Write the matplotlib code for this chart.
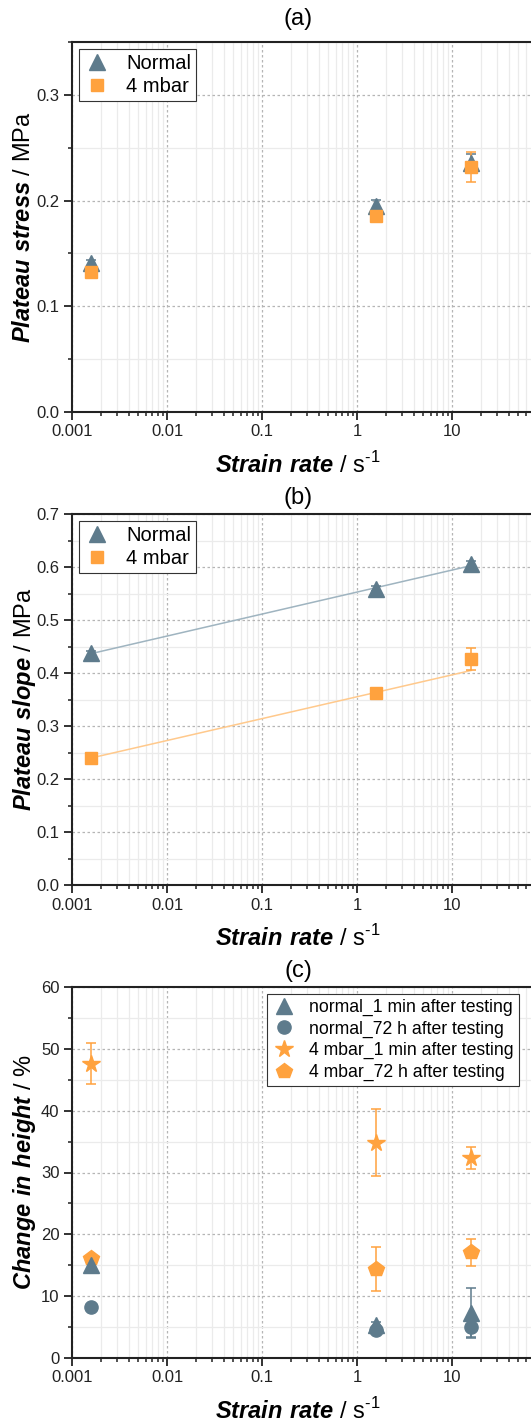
import numpy as np
import matplotlib
matplotlib.use('Agg')
import matplotlib.pyplot as plt
from matplotlib.ticker import MultipleLocator, LogLocator, NullFormatter, FixedFormatter, FixedLocator

plt.rcParams['font.family'] = ['Liberation Sans', 'DejaVu Sans']
plt.rcParams['mathtext.fontset'] = 'custom'
plt.rcParams['mathtext.rm'] = 'Liberation Sans'
plt.rcParams['mathtext.bf'] = 'Liberation Sans:italic:bold'

GREY = '#5e7b8c'
ORANGE = '#ffa23e'
GREY_LINE = '#9fb4c0'
ORANGE_LINE = '#ffc98c'

# strain rates (1/s)
rate = [0.0016, 1.6, 16]

# (a) plateau stress / MPa
stress_normal = [0.141, 0.195, 0.236]
stress_normal_err = [0.003, 0.006, 0.008]
stress_4mbar = [0.132, 0.185, 0.232]
stress_4mbar_err = [0.003, 0.004, 0.014]

# (b) plateau slope / MPa
slope_normal = [0.437, 0.559, 0.605]
slope_normal_err = [0.004, 0.005, 0.006]
slope_4mbar = [0.240, 0.362, 0.426]
slope_4mbar_err = [0.004, 0.005, 0.021]

# (c) change in height / %
h_normal_1min = [15.0, 5.3, 7.3]
h_normal_1min_err = [0.5, 0.5, 4.1]
h_normal_72h = [8.2, 4.6, 5.0]
h_normal_72h_err = [0.3, 0.4, 1.6]
h_4mbar_1min = [47.6, 34.8, 32.3]
h_4mbar_1min_err = [3.3, 5.4, 1.8]
h_4mbar_72h = [16.2, 14.4, 17.1]
h_4mbar_72h_err = [0.5, 3.5, 2.2]

xticks = [0.001, 0.01, 0.1, 1, 10]
xticklabels = ['0.001', '0.01', '0.1', '1', '10']

W, H = 531, 1423
fig = plt.figure(figsize=(W / 100, H / 100), dpi=100)

XLABEL = r'$\mathbf{Strain\ rate}$ / s$^{\text{-}1}$'


def make_axes(top_px, bottom_px):
    left, right = 72, 547
    ax = fig.add_axes([left / W, 1 - bottom_px / H, (right - left) / W, (bottom_px - top_px) / H])
    ax.set_xscale('log')
    ax.set_xlim(0.001, 100)
    ax.xaxis.set_major_locator(FixedLocator(xticks))
    ax.xaxis.set_major_formatter(FixedFormatter(xticklabels))
    ax.xaxis.set_minor_locator(LogLocator(base=10, subs=np.arange(2, 10)))
    ax.xaxis.set_minor_formatter(NullFormatter())
    for s in ['left', 'bottom', 'top']:
        ax.spines[s].set_linewidth(1.5)
        ax.spines[s].set_color('#222222')
    ax.spines['right'].set_visible(False)
    ax.tick_params(which='major', direction='out', length=6, width=1.3, labelsize=12, pad=3,
                   colors='#222222')
    ax.tick_params(which='minor', direction='out', length=3, width=1.1, colors='#222222')
    ax.grid(which='major', linestyle=(0, (2, 2)), color='#b5b5b5', linewidth=0.9)
    ax.grid(which='minor', linestyle='-', color='#ebebeb', linewidth=0.9)
    ax.set_axisbelow(True)
    ax.set_xlabel(XLABEL, fontsize=17)
    ax.xaxis.set_label_coords(0.476, -0.143)
    ax.xaxis.label.set_va('center')
    return ax


def set_ylabel(ax, txt):
    ax.set_ylabel(txt, fontsize=17)
    ax.yaxis.set_label_coords(-0.1, 0.5)
    ax.yaxis.label.set_va('center')


def add_legend(ax, order=None, **kw):
    h, l = ax.get_legend_handles_labels()
    h = [hh[0] for hh in h]
    if order is not None:
        h = [h[i] for i in order]
        l = [l[i] for i in order]
    leg = ax.legend(h, l, frameon=True, fancybox=False, edgecolor='#333333', framealpha=1,
                    handlelength=1.3, **kw)
    leg.get_frame().set_linewidth(0.8)
    return leg


eb = dict(capsize=3.5, elinewidth=1.1, capthick=1.1, linestyle='none')

# ---- (a)
ax1 = make_axes(42, 412)
ax1.set_ylim(0, 0.35)
ax1.yaxis.set_major_locator(MultipleLocator(0.1))
ax1.yaxis.set_minor_locator(MultipleLocator(0.05))
ax1.yaxis.set_major_formatter(matplotlib.ticker.FormatStrFormatter('%.1f'))
ax1.errorbar(rate, stress_normal, yerr=stress_normal_err, marker='^', ms=11.5, color=GREY,
             ecolor=GREY, label='Normal', **eb)
ax1.errorbar(rate, stress_4mbar, yerr=stress_4mbar_err, marker='s', ms=8.5, color=ORANGE,
             ecolor=ORANGE, label='4 mbar', **eb)
set_ylabel(ax1, r'$\mathbf{Plateau\ stress}$ / MPa')
ax1.set_title('(a)', fontsize=17, x=0.476, pad=12)
add_legend(ax1, loc='upper left', fontsize=14.5, borderaxespad=0.35, handletextpad=0.8,
           borderpad=0.25, labelspacing=0.2)

# ---- (b)
ax2 = make_axes(514, 885)
ax2.set_ylim(0, 0.7)
ax2.yaxis.set_major_locator(MultipleLocator(0.1))
ax2.yaxis.set_minor_locator(MultipleLocator(0.05))
ax2.yaxis.set_major_formatter(matplotlib.ticker.FormatStrFormatter('%.1f'))
lx = np.log10(rate)
for ys, es, lc in [(slope_normal, slope_normal_err, GREY_LINE), (slope_4mbar, slope_4mbar_err, ORANGE_LINE)]:
    p = np.polyfit(lx, ys, 1, w=1 / np.array(es))
    xf = np.array([rate[0], rate[-1]])
    ax2.plot(xf, np.polyval(p, np.log10(xf)), color=lc, lw=1.1, zorder=2)
ax2.errorbar(rate, slope_normal, yerr=slope_normal_err, marker='^', ms=11.5, color=GREY,
             ecolor=GREY, label='Normal', zorder=3, **eb)
ax2.errorbar(rate, slope_4mbar, yerr=slope_4mbar_err, marker='s', ms=8.5, color=ORANGE,
             ecolor=ORANGE, label='4 mbar', zorder=3, **eb)
set_ylabel(ax2, r'$\mathbf{Plateau\ slope}$ / MPa')
ax2.set_title('(b)', fontsize=17, x=0.476, pad=7)
add_legend(ax2, loc='upper left', fontsize=14.5, borderaxespad=0.35, handletextpad=0.8,
           borderpad=0.25, labelspacing=0.2)

# ---- (c)
ax3 = make_axes(987, 1358)
ax3.set_ylim(0, 60)
ax3.yaxis.set_major_locator(MultipleLocator(10))
ax3.yaxis.set_minor_locator(MultipleLocator(5))
ax3.errorbar(rate, h_4mbar_1min, yerr=h_4mbar_1min_err, marker='*', ms=13, color=ORANGE,
             ecolor=ORANGE, label='4 mbar_1 min after testing', **eb)
ax3.errorbar(rate, h_4mbar_72h, yerr=h_4mbar_72h_err, marker='p', ms=11.5, color=ORANGE,
             ecolor=ORANGE, label='4 mbar_72 h after testing', **eb)
ax3.errorbar(rate, h_normal_1min, yerr=h_normal_1min_err, marker='^', ms=11, color=GREY,
             ecolor=GREY, label='normal_1 min after testing', **eb)
ax3.errorbar(rate, h_normal_72h, yerr=h_normal_72h_err, marker='o', ms=9.5, color=GREY,
             ecolor=GREY, label='normal_72 h after testing', **eb)
set_ylabel(ax3, r'$\mathbf{Change\ in\ height}$ / %')
ax3.set_title('(c)', fontsize=17, x=0.476, pad=7)
add_legend(ax3, order=[2, 3, 0, 1], loc='upper left', bbox_to_anchor=(0.41, 0.982),
           fontsize=12.7, borderaxespad=0, handletextpad=0.8, borderpad=0.3, labelspacing=0.25)

fig.savefig('out.png', dpi=100)
